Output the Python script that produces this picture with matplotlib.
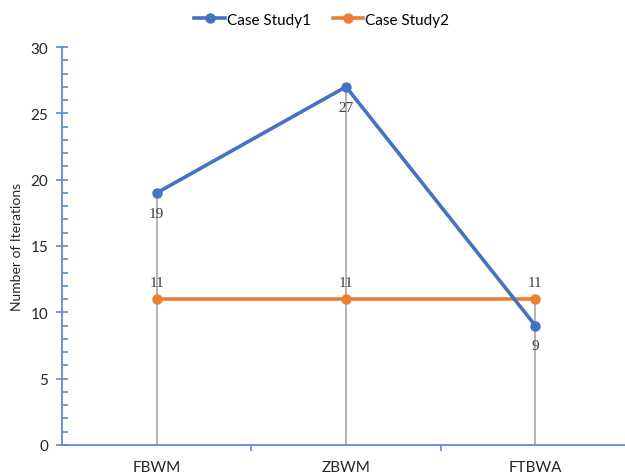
import matplotlib.pyplot as plt
from matplotlib.ticker import MultipleLocator

methods = ["FBWM", "ZBWM", "FTBWA"]
case_study1 = [19, 27, 9]
case_study2 = [11, 11, 11]

blue = "#4472C4"
orange = "#ED7D31"
axis_blue = "#5B8BD9"

plt.rcParams['font.family'] = ['Lato', 'DejaVu Sans']

fig = plt.figure(figsize=(6.25, 4.77), dpi=100)
ax = fig.add_axes([62 / 625, 31 / 477, 568 / 625, 398 / 477])

x = list(range(len(methods)))

# drop lines from the axis up to the highest point in each category
tops = [max(a, b) for a, b in zip(case_study1, case_study2)]
ax.vlines(x, 0, tops, color="#A5A5A5", lw=1.2, zorder=1)

ax.plot(x, case_study1, color=blue, lw=2.6, marker="o", ms=6.5, label="Case Study1", zorder=3)
ax.plot(x, case_study2, color=orange, lw=2.6, marker="o", ms=6.5, label="Case Study2", zorder=2)

label_font = dict(family=['Liberation Serif', 'DejaVu Serif'], fontsize=11, color="#404040")
for xi, v in zip(x, case_study1):
    ax.annotate(str(v), (xi, v), xytext=(0, -10), textcoords="offset points",
                ha="center", va="top", **label_font)
for xi, v in zip(x, case_study2):
    ax.annotate(str(v), (xi, v), xytext=(0, 7), textcoords="offset points",
                ha="center", va="bottom", **label_font)

ax.set_xlim(-0.5, len(methods) - 0.5)
ax.set_ylim(0, 30)
ax.set_xticks(x)
ax.set_xticklabels(methods)
ax.set_xticks([0.5, 1.5], minor=True)
ax.yaxis.set_major_locator(MultipleLocator(5))
ax.yaxis.set_minor_locator(MultipleLocator(1))

for side in ["top", "right"]:
    ax.spines[side].set_visible(False)
for side in ["left", "bottom"]:
    ax.spines[side].set_color(axis_blue)
    ax.spines[side].set_linewidth(1.3)

ax.tick_params(axis="y", which="major", direction="inout", length=8, width=1.2,
               color=axis_blue, labelsize=11, labelcolor="#262626", pad=6)
ax.tick_params(axis="y", which="minor", direction="in", length=4, width=1.2, color=axis_blue)
ax.tick_params(axis="x", which="major", length=0, labelsize=11, labelcolor="#262626", pad=11)
ax.tick_params(axis="x", which="minor", direction="out", length=4, width=1.2, color=axis_blue)

ax.set_ylabel("Number of Iterations", fontsize=10, color="#262626", labelpad=5)

fig.legend(loc="upper center", bbox_to_anchor=(0.515, 1.0), ncol=2, frameon=False,
           fontsize=11, handlelength=2.0, columnspacing=1.4, handletextpad=0.15)

fig.savefig("out.png", dpi=100)
